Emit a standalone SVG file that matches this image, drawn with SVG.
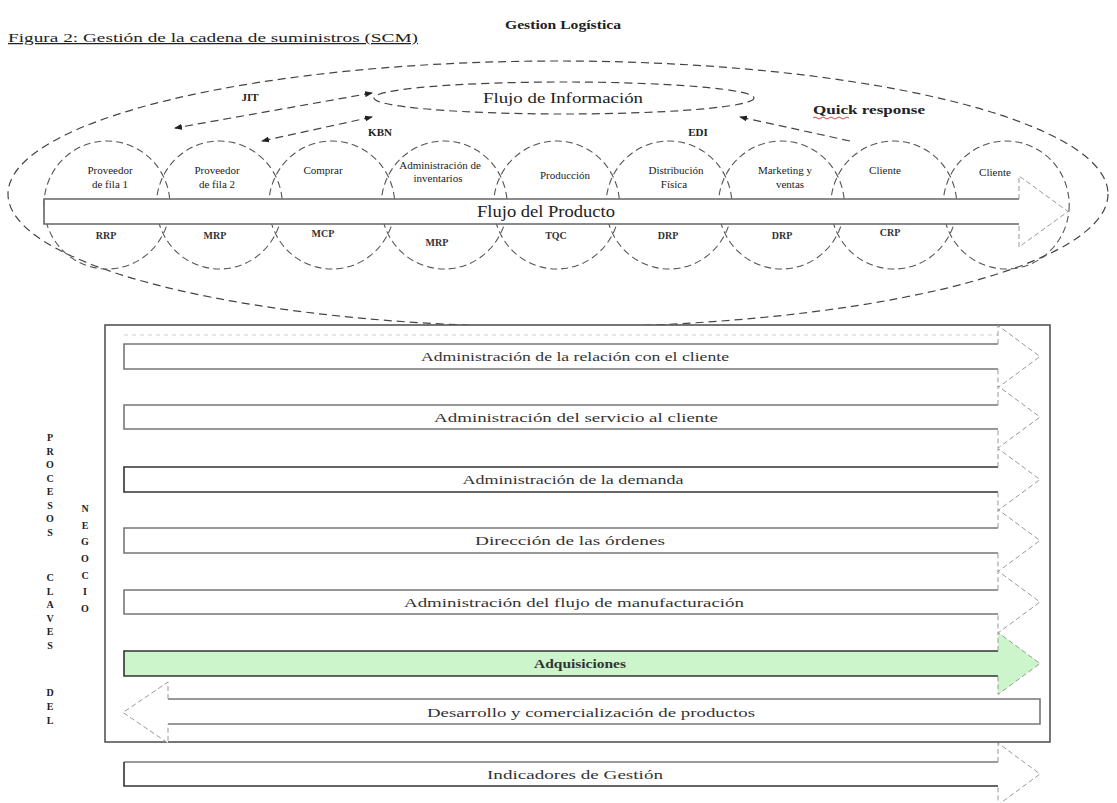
<svg xmlns="http://www.w3.org/2000/svg" width="1117" height="803" viewBox="0 0 1117 803">
  <defs>
    <marker id="ah" viewBox="0 0 8 6" refX="7" refY="3" markerWidth="8" markerHeight="6" markerUnits="userSpaceOnUse" orient="auto-start-reverse">
      <path d="M0,0 L8,3 L0,6 z" fill="#222"/>
    </marker>
  </defs>
  <style>
    text { font-family: "Liberation Serif", "Times New Roman", serif; fill: #222; }
    .dash { fill: none; stroke: #444; stroke-width: 1.2; stroke-dasharray: 8 5; }
    .circ { fill: none; stroke: #555; stroke-width: 1.1; stroke-dasharray: 7 4; }
    .lbl { font-size: 11px; text-anchor: middle; }
    .sub { font-size: 10px; font-weight: bold; text-anchor: middle; fill: #333; }
    .body { fill: none; stroke: #777; stroke-width: 1.6; }
    .dark { stroke: #333; }
    .head { fill: none; stroke: #999; stroke-width: 1; stroke-dasharray: 5 3; }
    .row { font-size: 13px; text-anchor: middle; fill: #333; }
    .vert { font-size: 10px; font-weight: bold; text-anchor: middle; fill: #222; }
  </style>

  <rect width="1117" height="803" fill="#fff"/>

  <!-- headings -->
  <g id="titles">
    <text x="8" y="42" font-size="12.5" text-decoration="underline" textLength="410" lengthAdjust="spacingAndGlyphs">Figura 2: Gestión de la cadena de suministros (SCM)</text>
    <text x="563" y="29" font-size="13" font-weight="bold" text-anchor="middle" textLength="116" lengthAdjust="spacingAndGlyphs">Gestion Logística</text>
  </g>

  <!-- logistics envelope -->
  <g id="logistica">
    <ellipse cx="558" cy="194" rx="550" ry="133" class="dash"/>
  </g>

  <!-- information flow -->
  <g id="flujo-informacion">
    <ellipse cx="564" cy="98" rx="190" ry="16" class="dash"/>
    <text x="563" y="103" font-size="15" text-anchor="middle" textLength="160" lengthAdjust="spacingAndGlyphs">Flujo de Información</text>
  </g>

  <!-- supply chain stages -->
  <g id="etapas">
    <ellipse cx="107" cy="205" rx="63" ry="64" class="circ"/>
    <ellipse cx="219.4" cy="205" rx="63" ry="64" class="circ"/>
    <ellipse cx="331.8" cy="205" rx="63" ry="64" class="circ"/>
    <ellipse cx="444.2" cy="205" rx="63" ry="64" class="circ"/>
    <ellipse cx="556.6" cy="205" rx="63" ry="64" class="circ"/>
    <ellipse cx="669" cy="205" rx="63" ry="64" class="circ"/>
    <ellipse cx="781.4" cy="205" rx="63" ry="64" class="circ"/>
    <ellipse cx="893.8" cy="205" rx="63" ry="64" class="circ"/>
    <ellipse cx="1006.2" cy="205" rx="63" ry="64" class="circ"/>
  </g>

  <!-- product flow arrow -->
  <g id="flujo-producto">
    <path d="M44,199 H1019 V176 L1068,211.5 L1019,247 V224 H44 Z" fill="#fff"/>
    <path d="M1019,199 H44 V224 H1019" fill="none" stroke="#666" stroke-width="1.6"/>
    <path d="M1019,199 V176 L1068,211.5 L1019,247 V224" class="head" stroke="#777"/>
    <text x="546" y="217" font-size="17" text-anchor="middle" textLength="138" lengthAdjust="spacingAndGlyphs">Flujo del Producto</text>
  </g>

  <!-- stage labels -->
  <g id="etiquetas">
    <g id="proveedor-1">
      <text class="lbl" x="110" y="174">Proveedor</text>
      <text class="lbl" x="110" y="188">de fila 1</text>
      <text class="sub" x="106" y="239">RRP</text>
    </g>
    <g id="proveedor-2">
      <text class="lbl" x="217" y="174">Proveedor</text>
      <text class="lbl" x="217" y="188">de fila 2</text>
      <text class="sub" x="215" y="239">MRP</text>
    </g>
    <g id="comprar">
      <text class="lbl" x="323" y="174">Comprar</text>
      <text class="sub" x="323" y="237">MCP</text>
    </g>
    <g id="inventarios">
      <text class="lbl" x="440" y="169" font-size="9">Administración de</text>
      <text class="lbl" x="438" y="182" font-size="9">inventarios</text>
      <text class="sub" x="437" y="246">MRP</text>
    </g>
    <g id="produccion">
      <text class="lbl" x="565" y="179" font-size="12">Producción</text>
      <text class="sub" x="556" y="239">TQC</text>
    </g>
    <g id="distribucion">
      <text class="lbl" x="676" y="174">Distribución</text>
      <text class="lbl" x="674" y="188">Física</text>
      <text class="sub" x="668" y="239">DRP</text>
    </g>
    <g id="marketing">
      <text class="lbl" x="785" y="174">Marketing y</text>
      <text class="lbl" x="790" y="188">ventas</text>
      <text class="sub" x="782" y="239">DRP</text>
    </g>
    <g id="cliente-1">
      <text class="lbl" x="885" y="174">Cliente</text>
      <text class="sub" x="890" y="236">CRP</text>
    </g>
    <g id="cliente-2">
      <text class="lbl" x="995" y="176">Cliente</text>
    </g>
  </g>

  <!-- information links -->
  <g id="conectores">
    <path d="M372,93 L175,128" class="dash" marker-start="url(#ah)" marker-end="url(#ah)"/>
    <path d="M372,117 L262,141" class="dash" marker-start="url(#ah)" marker-end="url(#ah)"/>
    <path d="M850,141 L740,117" class="dash" marker-end="url(#ah)"/>
    <text x="250" y="101" font-size="11" font-weight="bold" text-anchor="middle">JIT</text>
    <text x="380" y="136" font-size="11" font-weight="bold" text-anchor="middle">KBN</text>
    <text x="698" y="136" font-size="11" font-weight="bold" text-anchor="middle">EDI</text>
    <text x="813" y="114" font-size="13" font-weight="bold" textLength="112" lengthAdjust="spacingAndGlyphs">Quick response</text>
    <path d="M813,118 q2,-2 4,0 t4,0 t4,0 t4,0 t4,0 t4,0 t4,0 t4,0 t4,0" fill="none" stroke="#c33" stroke-width="0.9"/>
  </g>

  <!-- key business processes -->
  <g id="procesos">
    <rect x="105" y="325" width="945" height="417" fill="#fff" stroke="#555" stroke-width="1.6"/>
    <line x1="124" y1="335" x2="998" y2="335" stroke="#ccc" stroke-width="1" stroke-dasharray="4 4"/>

    <g id="relacion-cliente">
      <path d="M124,344 H998 V325.5 L1040,356.5 L998,387.5 V369 H124 Z" fill="#fff"/>
      <path d="M998,344 H124 V369 H998" class="body"/>
      <path d="M998,344 V325.5 L1040,356.5 L998,387.5 V369" class="head"/>
      <text class="row" x="575" y="361" textLength="308" lengthAdjust="spacingAndGlyphs">Administración de la relación con el cliente</text>
    </g>

    <g id="servicio-cliente">
      <path d="M124,405 H998 V386 L1040,417 L998,448 V429 H124 Z" fill="#fff"/>
      <path d="M998,405 H124 V429 H998" class="body"/>
      <path d="M998,405 V386 L1040,417 L998,448 V429" class="head"/>
      <text class="row" x="576" y="421.5" textLength="284" lengthAdjust="spacingAndGlyphs">Administración del servicio al cliente</text>
    </g>

    <g id="demanda">
      <path d="M124,467 H998 V448.5 L1040,479.5 L998,510.5 V492 H124 Z" fill="#fff"/>
      <path d="M998,467 H124 V492 H998" class="body dark"/>
      <path d="M998,467 V448.5 L1040,479.5 L998,510.5 V492" class="head"/>
      <text class="row" x="573" y="484" textLength="221" lengthAdjust="spacingAndGlyphs" fill="#111">Administración de la demanda</text>
    </g>

    <g id="ordenes">
      <path d="M124,528 H998 V509.5 L1040,540.5 L998,571.5 V553 H124 Z" fill="#fff"/>
      <path d="M998,528 H124 V553 H998" class="body"/>
      <path d="M998,528 V509.5 L1040,540.5 L998,571.5 V553" class="head"/>
      <text class="row" x="570" y="545" textLength="190" lengthAdjust="spacingAndGlyphs">Dirección de las órdenes</text>
    </g>

    <g id="manufactura">
      <path d="M124,590 H998 V571 L1040,602 L998,633 V614 H124 Z" fill="#fff"/>
      <path d="M998,590 H124 V614 H998" class="body"/>
      <path d="M998,590 V571 L1040,602 L998,633 V614" class="head"/>
      <text class="row" x="574" y="606.5" textLength="340" lengthAdjust="spacingAndGlyphs">Administración del flujo de manufacturación</text>
    </g>

    <g id="adquisiciones">
      <path d="M124,651 H998 V632.5 L1040,663.5 L998,694.5 V676 H124 Z" fill="#ccf5cc"/>
      <path d="M998,651 H124 V676 H998" class="body dark"/>
      <path d="M998,651 V632.5 L1040,663.5 L998,694.5 V676" class="head"/>
      <text class="row" x="580" y="668" font-weight="bold" fill="#111" textLength="92" lengthAdjust="spacingAndGlyphs">Adquisiciones</text>
    </g>

    <g id="desarrollo-productos">
      <path d="M1040,699 H168 V682 L123,712.5 L168,743 V724 H1040 Z" fill="#fff"/>
      <path d="M168,699 H1040 V724 H168" class="body"/>
      <path d="M168,699 V682 L123,712.5 L168,743 V724" class="head"/>
      <text class="row" x="591" y="717" textLength="328" lengthAdjust="spacingAndGlyphs">Desarrollo y comercialización de productos</text>
    </g>
  </g>

  <!-- management indicators -->
  <g id="indicadores">
    <path d="M124,762 H998 V743 L1040,774 L998,805 V786 H124 Z" fill="#fff"/>
    <path d="M998,762 H124" class="body"/>
    <path d="M124,762 V786 H998" class="body dark"/>
    <path d="M998,762 V743 L1040,774 L998,805 V786" class="head"/>
    <text class="row" x="575" y="778.5" textLength="176" lengthAdjust="spacingAndGlyphs">Indicadores de Gestión</text>
  </g>

  <!-- side captions -->
  <g id="rotulo-procesos">
    <text class="vert" x="50 50 50 50 50 50 50 50 50 50 50 50 50 50 50 50 50 50 50" y="441 455 468 482 495 509 522 536 556 581 595 608 622 635 649 670 696 710 724">PROCESOS CLAVES DEL</text>
    <text class="vert" x="85 85 85 85 85 85 85" y="512 529 545 562 579 595 612">NEGOCIO</text>
  </g>
</svg>
